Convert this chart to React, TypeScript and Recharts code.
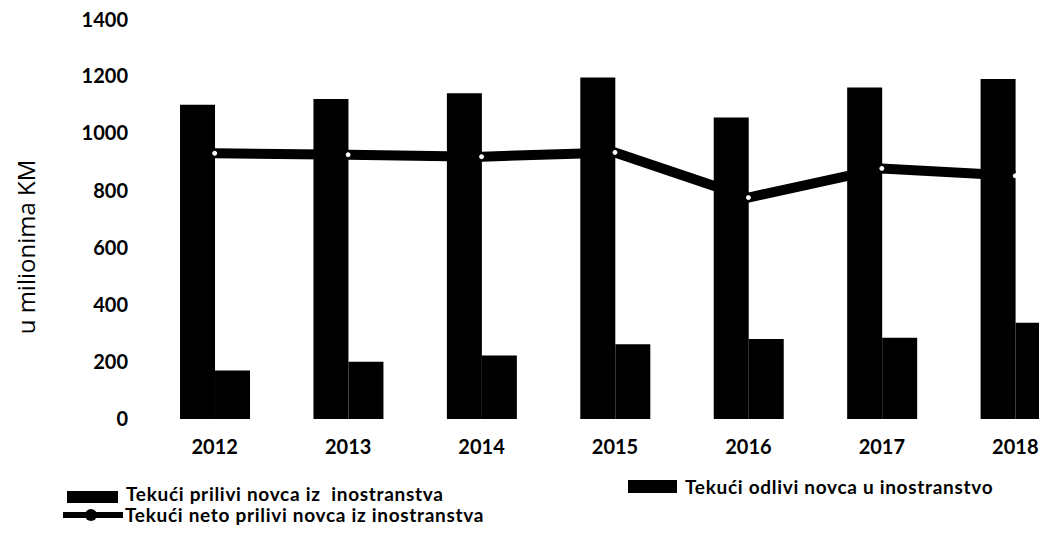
import { ComposedChart, Bar, Line, XAxis, YAxis, Legend } from "recharts";

const years = ["2012", "2013", "2014", "2015", "2016", "2017", "2018"];
const inflows = [1100, 1120, 1140, 1195, 1055, 1160, 1190];
const outflows = [170, 200, 222, 262, 280, 284, 337];
const netInflows = [930, 925, 918, 933, 775, 877, 851];
const yTicks = [0, 200, 400, 600, 800, 1000, 1200, 1400];

const data = years.map((year, i) => ({
  year,
  inflow: inflows[i],
  outflow: outflows[i],
  net: netInflows[i],
}));

const FONT = "Lato, 'Open Sans', sans-serif";

const legendText: React.CSSProperties = {
  position: "absolute",
  fontFamily: FONT,
  fontWeight: 700,
  fontSize: 19,
  letterSpacing: 0.7,
  color: "#000",
  whiteSpace: "pre",
  lineHeight: "20px",
};

// legenda rucno rasporedena kao u originalu
function ChartLegend() {
  return (
    <div style={{ position: "relative", width: 0, height: 0 }}>
      <div style={{ position: "absolute", left: 59, top: 483, width: 51, height: 12, background: "#000" }} />
      <div style={{ ...legendText, left: 118, top: 476 }}>Tekući prilivi novca iz  inostranstva</div>

      <div style={{ position: "absolute", left: 620, top: 472, width: 49, height: 13, background: "#000" }} />
      <div style={{ ...legendText, left: 677, top: 469 }}>Tekući odlivi novca u inostranstvo</div>

      <div style={{ position: "absolute", left: 55, top: 504, width: 60, height: 6, background: "#000" }} />
      <div style={{ position: "absolute", left: 77, top: 501, width: 12, height: 12, borderRadius: 6, background: "#000" }} />
      <div style={{ ...legendText, left: 117, top: 497 }}>Tekući neto prilivi novca iz inostranstva</div>
    </div>
  );
}

export default function App() {
  return (
    <div style={{ width: 1039, height: 526, overflow: "hidden" }}>
      <ComposedChart
        width={1100}
        height={526}
        data={data}
        margin={{ top: 11, right: 26, bottom: 85, left: 0 }}
        barCategoryGap="24%"
        barGap={0}
      >
        <XAxis
          dataKey="year"
          axisLine={false}
          tickLine={false}
          tickSize={0}
          tickMargin={21}
          tick={{ fill: "#000", fontFamily: FONT, fontWeight: 700, fontSize: 20 }}
        />
        <YAxis
          width={140}
          domain={[0, 1400]}
          ticks={yTicks}
          axisLine={false}
          tickLine={false}
          tickSize={0}
          tickMargin={20}
          tick={{ fill: "#000", fontFamily: FONT, fontWeight: 700, fontSize: 20 }}
          label={{
            content: () => (
              <text
                x={17}
                y={239}
                transform="rotate(-90 17 239)"
                textAnchor="middle"
                dominantBaseline="central"
                fill="#000"
                fontFamily="'Open Sans', sans-serif"
                fontSize={24}
              >
                u milionima KM
              </text>
            ),
          }}
        />
        <Legend
          content={() => <ChartLegend />}
          wrapperStyle={{ left: 0, top: 0, width: 0, height: 0 }}
        />
        <Bar dataKey="inflow" name="Tekući prilivi novca iz  inostranstva" fill="#000" isAnimationActive={false} />
        <Bar dataKey="outflow" name="Tekući odlivi novca u inostranstvo" fill="#000" isAnimationActive={false} />
        <Line
          dataKey="net"
          name="Tekući neto prilivi novca iz inostranstva"
          stroke="#000"
          strokeWidth={10}
          dot={{ r: 2, fill: "#fff", stroke: "#fff", strokeWidth: 1 }}
          isAnimationActive={false}
        />
      </ComposedChart>
    </div>
  );
}
